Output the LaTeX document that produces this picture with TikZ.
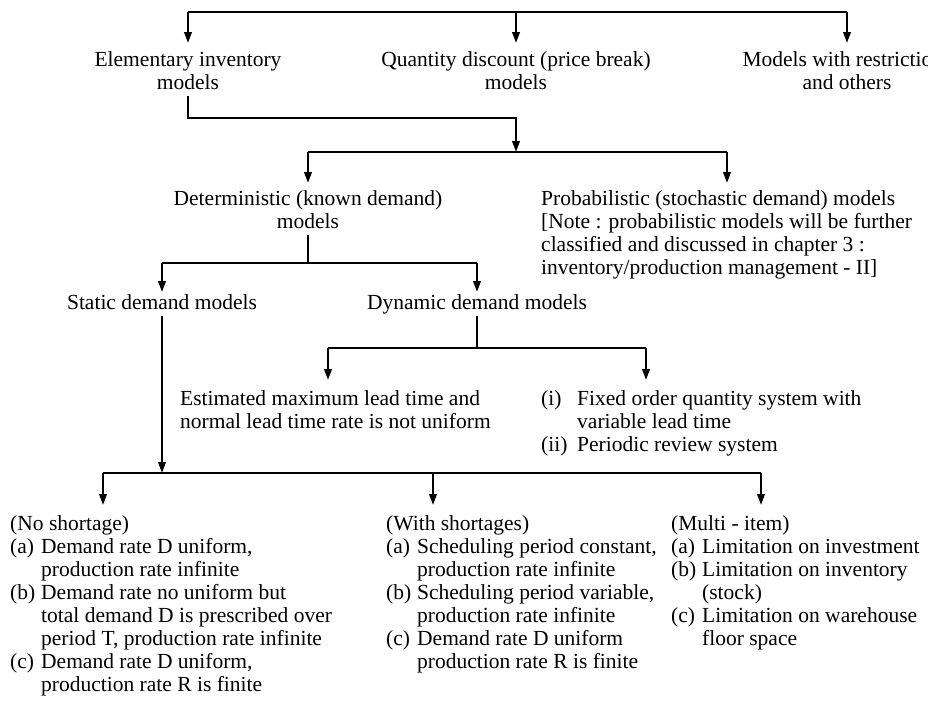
\documentclass[tikz,border=0pt]{standalone}
\usepackage{fontspec}
\setmainfont{Liberation Serif}
\usetikzlibrary{arrows.meta}
\newcommand\lbx[1]{\makebox[31pt][l]{#1}}
\newcommand\lby[1]{\makebox[36pt][l]{#1}}
\begin{document}
\begin{tikzpicture}[x=1pt,y=-1pt,
  tx/.style={inner sep=0pt, font=\fontsize{21.5}{23}\selectfont},
  ctr/.style={tx, align=center, anchor=north},
  lft/.style={tx, align=left, anchor=north west},
  ln/.style={line width=2.2pt},
  arr/.style={ln, -{Triangle[length=11pt,width=7.5pt]}}]
\useasboundingbox (0,0) rectangle (928,707);

% top row
\node[ctr] (elem) at (188,50) {\strut Elementary inventory\\models\strut};
\node[ctr] (quan) at (516,50) {\strut Quantity discount (price break)\\models\strut};
\node[ctr] (rest) at (847,50) {\strut Models with restrictions\\and others\strut};
\coordinate (t1) at (188,12);
\coordinate (t2) at (516,12);
\coordinate (t3) at (847,12);
\draw[ln] (t1) -- (t3);
\draw[arr, shorten >=7pt] (t1) -- (elem.north);
\draw[arr, shorten >=7pt] (t2) -- (quan.north);
\draw[arr, shorten >=7pt] (t3) -- (rest.north);

% second level
\coordinate (c1) at (516,118);
\coordinate (j1) at (516,152);
\draw[arr] (elem.south) |- (c1) -- (j1);
\node[ctr] (det) at (308,189) {\strut Deterministic (known demand)\\models\strut};
\node[lft] (prob) at (541,189) {\strut Probabilistic (stochastic demand) models\\
{[}Note : probabilistic models will be further\\
classified and discussed in chapter 3 :\\
inventory/production management - II{]}};
\coordinate (b2l) at (308,152);
\coordinate (b2r) at (727,152);
\draw[ln] (b2l) -- (b2r);
\draw[arr, shorten >=6pt] (b2l) -- (det.north);
\draw[arr, shorten >=6pt] (b2r) -- (b2r |- prob.north);

% third level
\coordinate (j2) at (308,263);
\draw[ln] (det.south) -- (j2);
\coordinate (b3l) at (162,263);
\coordinate (b3r) at (477,263);
\draw[ln] (b3l) -- (b3r);
\node[ctr] (stat) at (162,293) {\strut Static demand models\strut};
\node[ctr] (dyn) at (477,293) {\strut Dynamic demand models\strut};
\draw[arr, shorten >=1pt] (b3l) -- (stat.north);
\draw[arr, shorten >=1pt] (b3r) -- (dyn.north);

% dynamic branch
\coordinate (j3) at (477,348);
\draw[ln] (dyn.south) -- (j3);
\coordinate (b4l) at (328,348);
\coordinate (b4r) at (646,348);
\draw[ln] (b4l) -- (b4r);
\node[lft] (est) at (180,389) {\strut Estimated maximum lead time and\\normal lead time rate is not uniform};
\node[lft] (fix) at (541,389) {\begin{tabular}{@{}l@{}l@{}}
\lby{(i)} & Fixed order quantity system with\\
 & variable lead time\\
\lby{(ii)} & Periodic review system
\end{tabular}};
\draw[arr, shorten >=9pt] (b4l) -- (b4l |- est.north);
\draw[arr, shorten >=9pt] (b4r) -- (b4r |- fix.north);

% static branch to bottom
\coordinate (j4) at (162,473);
\draw[arr] (stat.south) -- (j4);
\coordinate (b5l) at (103,473);
\coordinate (b5m) at (433,473);
\coordinate (b5r) at (761,473);
\draw[ln] (b5l) -- (b5r);

\node[lft] (col1) at (10,514) {\begin{tabular}{@{}l@{}l@{}}
\multicolumn{2}{@{}l@{}}{(No shortage)}\\
\lbx{(a)} & Demand rate D uniform,\\
 & production rate infinite\\
\lbx{(b)} & Demand rate no uniform but\\
 & total demand D is prescribed over\\
 & period T, production rate infinite\\
\lbx{(c)} & Demand rate D uniform,\\
 & production rate R is finite
\end{tabular}};
\node[lft] (col2) at (386,514) {\begin{tabular}{@{}l@{}l@{}}
\multicolumn{2}{@{}l@{}}{(With shortages)}\\
\lbx{(a)} & Scheduling period constant,\\
 & production rate infinite\\
\lbx{(b)} & Scheduling period variable,\\
 & production rate infinite\\
\lbx{(c)} & Demand rate D uniform\\
 & production rate R is finite
\end{tabular}};
\node[lft] (col3) at (671,514) {\begin{tabular}{@{}l@{}l@{}}
\multicolumn{2}{@{}l@{}}{(Multi - item)}\\
\lbx{(a)} & Limitation on investment\\
\lbx{(b)} & Limitation on inventory\\
 & (stock)\\
\lbx{(c)} & Limitation on warehouse\\
 & floor space
\end{tabular}};
\draw[arr, shorten >=9pt] (b5l) -- (b5l |- col1.north);
\draw[arr, shorten >=9pt] (b5m) -- (b5m |- col2.north);
\draw[arr, shorten >=9pt] (b5r) -- (b5r |- col3.north);
\end{tikzpicture}
\end{document}
